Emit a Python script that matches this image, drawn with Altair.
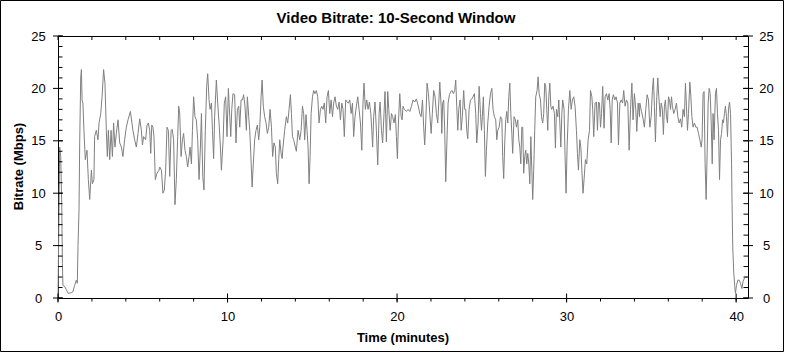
import altair as alt
import pandas as pd

FONT = "Liberation Sans"

# ---- data: time (minutes) and bitrate (Mbps) ----
t1 = [0.00, 0.10, 0.16, 0.22, 0.26, 0.29, 0.39, 0.49, 0.59, 0.79, 0.88, 0.98, 1.08, 1.14, 1.18, 1.24,
      1.28, 1.34, 1.38, 1.42, 1.47, 1.53, 1.61, 1.71, 1.79, 1.87, 1.97, 2.03, 2.12, 2.16, 2.26, 2.36,
      2.42, 2.52, 2.60, 2.69, 2.77, 2.85, 2.91, 2.97, 3.05, 3.13, 3.21, 3.28, 3.36, 3.44, 3.54, 3.64,
      3.74, 3.83, 3.93, 4.03, 4.13, 4.27, 4.42, 4.52, 4.62, 4.72, 4.82, 4.92, 4.98, 5.05, 5.17, 5.25,
      5.33, 5.41, 5.47, 5.53, 5.60, 5.66, 5.74, 5.84, 5.96]
v1 = [0, 14.4, 13.5, 9.0, 3.3, 1.2, 1.1, 0.8, 0.45, 0.5, 0.6, 1.2, 1.7, 1.4, 5.0, 8.4,
      14.8, 21.0, 21.8, 18.9, 18.6, 16.0, 13.2, 14.1, 11.3, 9.4, 12.2, 10.9, 11.3, 15.4, 16.0, 15.1,
      16.7, 17.6, 19.2, 21.8, 20.5, 16.0, 13.5, 16.0, 13.2, 16.0, 13.5, 16.7, 14.4, 15.7, 17.0, 14.8,
      14.4, 13.5, 15.1, 16.3, 17.0, 17.8, 16.0, 15.1, 14.4, 15.7, 17.1, 16.0, 14.6, 15.4, 15.1, 16.5,
      16.7, 16.0, 13.8, 16.5, 16.3, 15.4, 11.3, 11.9, 12.2]

t2 = [6.00, 6.10, 6.19, 6.27, 6.35, 6.43, 6.51, 6.59, 6.67, 6.74,
      6.82, 6.90, 6.98, 7.06, 7.12, 7.18, 7.26, 7.34, 7.41, 7.49,
      7.57, 7.65, 7.73, 7.79, 7.87, 7.93, 8.00, 8.08, 8.16, 8.24,
      8.32, 8.40, 8.46, 8.54, 8.61, 8.69, 8.77, 8.83, 8.91, 8.97,
      9.05, 9.11, 9.18, 9.24, 9.34, 9.42, 9.50, 9.58, 9.64, 9.74,
      9.81, 9.89, 9.97, 10.05, 10.13, 10.19, 10.25, 10.32, 10.42, 10.50,
      10.58, 10.66, 10.72, 10.80, 10.88, 10.95, 11.03, 11.11, 11.17, 11.25,
      11.31, 11.37, 11.45, 11.52, 11.60, 11.68, 11.76, 11.84, 11.90, 11.98,
      12.04, 12.11, 12.19, 12.27, 12.35, 12.43, 12.51, 12.59, 12.66, 12.74,
      12.82, 12.88, 12.96, 13.02]
v2 = [12.5, 12.2, 10.0, 10.3, 12.2, 16.3, 16.0, 11.6, 16.0, 16.1,
      15.1, 8.9, 11.3, 15.4, 18.3, 17.6, 13.5, 15.1, 15.7, 14.1,
      13.5, 12.5, 13.5, 14.4, 12.8, 16.0, 19.2, 17.3, 17.0, 15.1,
      11.3, 14.4, 17.6, 11.6, 10.3, 16.0, 20.2, 21.4, 18.9, 18.0,
      18.6, 16.0, 13.3, 17.3, 20.8, 18.6, 16.7, 14.4, 12.2, 15.1,
      18.6, 19.2, 15.4, 20.0, 17.3, 15.4, 18.0, 19.5, 19.4, 14.8,
      18.0, 18.3, 16.3, 18.9, 18.9, 19.4, 18.3, 16.0, 19.2, 17.3,
      16.0, 13.8, 10.6, 12.8, 15.1, 16.0, 16.5, 15.1, 16.3, 19.2,
      20.8, 18.3, 17.3, 16.7, 15.7, 16.3, 18.0, 16.3, 13.5, 14.8,
      14.4, 11.9, 10.9, 13.2]

t3 = [13.08, 13.16, 13.22, 13.27, 13.37, 13.47, 13.55, 13.63, 13.71, 13.77,
      13.83, 13.90, 14.00, 14.06, 14.16, 14.26, 14.34, 14.42, 14.49, 14.55,
      14.63, 14.69, 14.75, 14.81, 14.87, 14.93, 15.01, 15.08, 15.16, 15.24,
      15.32, 15.40, 15.48, 15.56, 15.63, 15.71, 15.79, 15.87, 15.95, 16.03,
      16.11, 16.19, 16.26, 16.34, 16.42, 16.50, 16.58, 16.66, 16.74, 16.81,
      16.89, 16.97, 17.05, 17.13, 17.21, 17.29, 17.37, 17.44, 17.52, 17.60,
      17.68, 17.76, 17.84, 17.92, 17.99, 18.05, 18.13, 18.21, 18.29, 18.37,
      18.45, 18.51, 18.56, 18.62, 18.70, 18.78, 18.86, 18.94, 19.00, 19.08,
      19.15, 19.23, 19.29, 19.37, 19.45, 19.51, 19.59, 19.67, 19.74, 19.82,
      19.90, 19.96, 20.02, 20.08]
v3 = [15.1, 13.8, 13.3, 14.4, 16.0, 17.3, 16.7, 18.0, 19.4, 17.6,
      15.4, 15.1, 14.4, 14.0, 16.0, 15.1, 16.0, 18.3, 17.6, 15.1,
      17.5, 16.0, 14.4, 10.9, 13.5, 17.6, 19.2, 19.8, 19.5, 19.8,
      19.2, 16.7, 18.0, 18.3, 18.0, 18.6, 16.7, 19.2, 19.8, 17.6,
      18.9, 17.3, 18.6, 19.2, 18.3, 18.0, 18.7, 17.0, 18.6, 18.0,
      15.4, 18.9, 18.7, 18.6, 18.9, 17.6, 18.6, 15.4, 17.3, 18.3,
      19.2, 18.0, 16.7, 14.1, 18.6, 20.5, 18.0, 18.9, 18.0, 18.7,
      17.6, 16.0, 14.4, 17.3, 18.7, 16.0, 12.7, 17.6, 18.7, 16.0,
      14.8, 17.6, 19.7, 14.9, 19.7, 18.0, 16.0, 17.6, 17.3, 16.7,
      17.5, 15.4, 13.3, 16.7]

t4 = [20.16, 20.24, 20.30, 20.35, 20.43, 20.55, 20.65, 20.75, 20.85, 20.94,
      21.04, 21.14, 21.24, 21.34, 21.42, 21.50, 21.57, 21.63, 21.69, 21.77,
      21.85, 21.93, 22.01, 22.08, 22.16, 22.24, 22.32, 22.40, 22.46, 22.52,
      22.60, 22.64, 22.69, 22.75, 22.81, 22.87, 22.93, 23.01, 23.09, 23.17,
      23.25, 23.32, 23.40, 23.46, 23.52, 23.58, 23.64, 23.72, 23.78, 23.85,
      23.93, 23.99, 24.05, 24.11, 24.17, 24.25, 24.33, 24.41, 24.48, 24.56,
      24.64, 24.70, 24.78, 24.84, 24.92, 24.98, 25.03, 25.09, 25.15, 25.21,
      25.27, 25.35, 25.43, 25.51, 25.59, 25.66, 25.74, 25.82, 25.88, 25.94,
      26.02, 26.10, 26.18, 26.23, 26.29, 26.35, 26.41, 26.47, 26.53, 26.59,
      26.65, 26.71, 26.77, 26.82, 26.90, 26.98, 27.04, 27.12, 27.18]
v4 = [19.5, 17.3, 17.0, 18.3, 18.0, 17.8, 18.0, 17.8, 18.3, 18.9,
      18.7, 19.0, 18.4, 17.6, 17.3, 18.9, 16.3, 14.6, 16.7, 20.5,
      19.5, 17.6, 15.7, 17.6, 19.8, 19.2, 17.6, 16.7, 18.6, 20.6,
      18.3, 15.7, 18.6, 18.9, 16.0, 11.1, 14.4, 18.6, 19.4, 19.7,
      19.8, 19.5, 19.8, 20.8, 18.3, 16.0, 18.0, 18.9, 16.0, 17.3,
      19.8, 18.0, 18.0, 16.0, 15.2, 18.0, 18.9, 19.0, 19.2, 19.5,
      17.6, 14.8, 16.7, 20.2, 17.6, 16.0, 17.3, 19.2, 16.0, 11.6,
      14.1, 16.7, 18.3, 19.5, 20.0, 18.0, 17.3, 17.0, 15.1, 16.0,
      16.3, 17.3, 17.1, 13.5, 11.4, 14.8, 17.0, 17.8, 16.7, 19.2,
      20.5, 17.6, 15.7, 13.8, 17.3, 17.0, 16.3, 17.0, 15.1]

t5 = [27.24, 27.30, 27.36, 27.41, 27.47, 27.53, 27.59, 27.65, 27.71, 27.77,
      27.83, 27.89, 27.95, 28.00, 28.06, 28.12, 28.18, 28.26, 28.32, 28.38,
      28.46, 28.52, 28.59, 28.65, 28.71, 28.77, 28.83, 28.89, 28.95, 29.01,
      29.07, 29.12, 29.20, 29.28, 29.34, 29.40, 29.48, 29.54, 29.60, 29.66,
      29.72, 29.77, 29.85, 29.91, 29.97, 30.03, 30.11, 30.19, 30.27, 30.34,
      30.42, 30.50, 30.58, 30.64, 30.70, 30.78, 30.84, 30.91, 30.97, 31.03,
      31.11, 31.19, 31.27, 31.35, 31.41, 31.49, 31.54, 31.60, 31.68, 31.76,
      31.82, 31.88, 31.94, 32.00, 32.06, 32.13, 32.21, 32.27, 32.35, 32.43,
      32.51, 32.57, 32.63, 32.69, 32.76, 32.84, 32.92, 33.00, 33.06, 33.14,
      33.22, 33.30, 33.37, 33.45, 33.53, 33.61, 33.69, 33.77, 33.85, 33.92,
      34.00, 34.08, 34.14, 34.22, 34.30]
v5 = [14.4, 12.8, 16.3, 16.3, 11.9, 13.5, 14.1, 12.8, 13.8, 12.8,
      10.9, 15.4, 12.2, 9.4, 12.2, 16.0, 19.2, 19.8, 21.1, 19.5,
      18.9, 17.3, 16.7, 17.6, 20.5, 20.2, 18.0, 16.0, 19.2, 20.5,
      18.3, 18.0, 18.3, 17.6, 14.3, 18.0, 17.3, 18.9, 16.7, 14.4,
      17.6, 18.9, 18.0, 13.5, 10.0, 14.4, 18.0, 19.8, 18.0, 18.9,
      19.2, 18.3, 16.0, 13.8, 12.2, 15.1, 14.4, 11.9, 10.0, 11.3,
      13.2, 12.8, 15.1, 16.0, 19.8, 19.2, 18.0, 15.4, 18.6, 18.7,
      16.0, 18.7, 18.6, 16.3, 17.6, 20.2, 16.2, 19.2, 19.5, 18.9,
      19.5, 18.0, 14.8, 18.9, 19.4, 18.9, 19.2, 18.6, 14.6, 18.6,
      18.9, 18.6, 19.8, 18.3, 18.9, 18.6, 14.1, 18.0, 20.5, 17.0,
      19.5, 18.0, 15.9, 18.6, 17.3]

t6 = [34.32, 34.42, 34.51, 34.59, 34.67, 34.75, 34.83, 34.91, 34.99, 35.06,
      35.12, 35.18, 35.24, 35.32, 35.38, 35.44, 35.52, 35.58, 35.65, 35.71,
      35.77, 35.83, 35.89, 35.95, 36.01, 36.07, 36.13, 36.19, 36.24, 36.32,
      36.40, 36.48, 36.56, 36.64, 36.72, 36.79, 36.87, 36.95, 37.01, 37.07,
      37.13, 37.19, 37.27, 37.33, 37.39, 37.46, 37.54, 37.62, 37.70, 37.78,
      37.86, 37.94, 37.99, 38.05, 38.11, 38.17, 38.23, 38.29, 38.35, 38.41,
      38.47, 38.53, 38.59, 38.64, 38.70, 38.78, 38.84, 38.90, 38.96, 39.02,
      39.08, 39.14, 39.20, 39.25, 39.31, 39.37, 39.43, 39.49, 39.55, 39.61,
      39.67, 39.73, 39.76, 39.80, 39.86, 39.92, 39.96, 40.02, 40.10, 40.18,
      40.26, 40.34, 40.41, 40.49, 40.57, 40.65]
v6 = [18.6, 17.8, 17.1, 16.3, 18.0, 19.4, 18.9, 16.3, 17.3, 19.8,
      21.0, 18.3, 14.9, 19.2, 21.0, 19.2, 17.3, 18.6, 18.0, 15.6,
      18.3, 18.9, 17.3, 16.7, 19.2, 18.9, 18.0, 19.2, 18.3, 17.6,
      18.0, 18.6, 17.3, 16.7, 17.1, 16.3, 18.0, 17.3, 20.5, 18.3,
      16.0, 17.6, 20.6, 19.2, 17.3, 16.3, 16.7, 16.3, 16.3, 15.7,
      15.1, 14.4, 15.1, 19.5, 19.7, 12.8, 9.4, 13.8, 18.6, 20.0,
      19.5, 16.7, 12.8, 17.6, 15.1, 19.5, 20.0, 17.6, 16.0, 11.3,
      15.1, 15.7, 17.0, 16.7, 17.6, 18.3, 17.3, 15.4, 18.0, 18.7,
      17.6, 12.8, 9.0, 4.9, 2.4, 1.1, 0.45, 1.2, 1.7, 1.7,
      1.4, 0.9, 1.6, 1.9, 2.0, 2.0]

# axis tick values
x_minor = [0, 2, 4, 6, 8, 10, 12, 14, 16, 18, 20, 22, 24, 26, 28, 30, 32, 34, 36, 38, 40]
x_major = [0, 10, 20, 30, 40]
y_minor = [0, 1, 2, 3, 4, 5, 6, 7, 8, 9, 10, 11, 12, 13, 14, 15, 16, 17, 18, 19, 20, 21, 22, 23, 24, 25]
y_major = [0, 5, 10, 15, 20, 25]

TITLE = "Video Bitrate: 10-Second Window"

segments = [(t1, v1), (t2, v2), (t3, v3), (t4, v4), (t5, v5), (t6, v6)]
df = pd.concat([pd.DataFrame({"t": t, "v": v}) for t, v in segments], ignore_index=True)

W, H = 690, 262
xscale = alt.Scale(domain=[0, 40.7], nice=False, zero=False)
yscale = alt.Scale(domain=[0, 25], nice=False, zero=False)

x_axis = alt.Axis(values=x_major, title="Time (minutes)", ticks=False, domain=False, grid=False,
                  labelFont=FONT, labelFontSize=13, labelColor="black", labelPadding=12,
                  labelFlush=False, labelOverlap=False,
                  titleFont=FONT, titleFontSize=13, titleFontWeight="bold", titleColor="black",
                  titleX=344.5, titleY=43, titleBaseline="alphabetic", titleAlign="center")
y_axis_left = alt.Axis(values=y_major, title="Bitrate (Mbps)", ticks=False, domain=False, grid=False,
                       labelFont=FONT, labelFontSize=13, labelColor="black", labelPadding=20,
                       labelAlign="center", labelBaseline="middle", labelFlush=False, labelOverlap=False,
                       titleFont=FONT, titleFontSize=13, titleFontWeight="bold", titleColor="black",
                       titleX=-35.5, titleY=130, titleBaseline="alphabetic", titleAlign="center",
                       titleAngle=270)
y_axis_right = alt.Axis(values=y_major, title=None, orient="right", ticks=False, domain=False, grid=False,
                        labelFont=FONT, labelFontSize=13, labelColor="black", labelPadding=18,
                        labelAlign="center", labelBaseline="middle", labelFlush=False, labelOverlap=False)

line = alt.Chart(df).mark_line(color="#808080", strokeWidth=1).encode(
    x=alt.X("t:Q", scale=xscale, axis=x_axis),
    y=alt.Y("v:Q", scale=yscale, axis=y_axis_left),
)

xmin_df = pd.DataFrame({"t": x_minor})
xmaj_df = pd.DataFrame({"t": x_major})
ymin_df = pd.DataFrame({"v": y_minor})
ymaj_df = pd.DataFrame({"v": y_major})

def xrule(data, y0, y1):
    return alt.Chart(data).mark_rule(color="black", strokeWidth=1).encode(
        x=alt.X("t:Q", scale=xscale, axis=None), y=alt.value(y0), y2=alt.value(y1))

def yrule(data, x0, x1, axis=None):
    return alt.Chart(data).mark_rule(color="black", strokeWidth=1).encode(
        y=alt.Y("v:Q", scale=yscale, axis=axis), x=alt.value(x0), x2=alt.value(x1))

top_ticks = xrule(xmin_df, 0, 4)
bottom_minor = xrule(xmin_df, H, H + 3.5)
bottom_major = xrule(xmaj_df, H - 4.5, H + 4.5)
left_minor = yrule(ymin_df, 0, 4.5)
left_major = yrule(ymaj_df, -5, 5)
right_minor = yrule(ymin_df, W - 4.5, W, axis=y_axis_right)
right_major = yrule(ymaj_df, W - 5, W + 5)

one = pd.DataFrame({"a": [0]})
frame = alt.Chart(one).mark_rect(
    filled=False, stroke="black", strokeWidth=1, fillOpacity=0).encode(
    x=alt.value(-57.5), x2=alt.value(725.5), y=alt.value(-35.5), y2=alt.value(315.5))

title = alt.Chart(one).mark_text(
    text=TITLE, font=FONT, fontSize=15, fontWeight="bold", color="black",
    align="center", baseline="alphabetic").encode(x=alt.value(338), y=alt.value(-13.3))

chart = alt.layer(
    frame, title, line, top_ticks, bottom_minor, bottom_major,
    left_minor, left_major, right_minor, right_major,
).resolve_axis(x="independent", y="independent").properties(
    width=W, height=H,
    autosize=alt.AutoSizeParams(type="none"),
    padding={"left": 58, "top": 36, "right": 37, "bottom": 55},
    background="white",
).configure_view(stroke="black", strokeWidth=1)

chart.save("out.html", embed_options={"renderer": "svg", "actions": False})
